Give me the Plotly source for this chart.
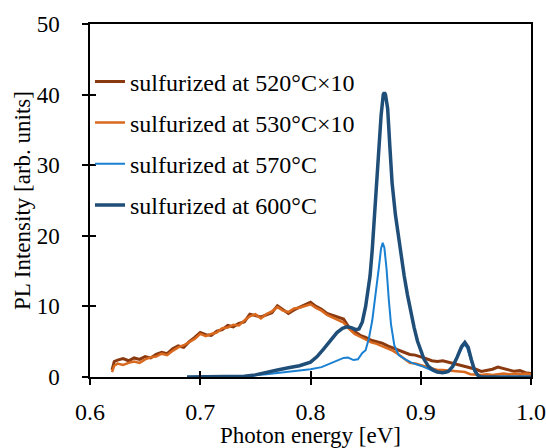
import plotly.graph_objects as go

# ---- data ----
e_520 = [0.620, 0.622, 0.625, 0.630, 0.635, 0.640, 0.645, 0.650, 0.655, 0.660, 0.665, 0.670, 0.675, 0.680,
         0.685, 0.690, 0.695, 0.700, 0.705, 0.710, 0.715, 0.720, 0.725, 0.730, 0.735, 0.740, 0.745, 0.750,
         0.755, 0.760, 0.765, 0.770, 0.775, 0.780, 0.785, 0.790, 0.795, 0.800, 0.805, 0.810, 0.815, 0.820,
         0.825, 0.830, 0.835, 0.840, 0.845, 0.850, 0.855, 0.860, 0.865, 0.870, 0.875, 0.880, 0.885, 0.890,
         0.895, 0.900, 0.905, 0.910, 0.915, 0.920, 0.925, 0.930, 0.935, 0.940, 0.945, 0.950, 0.955, 0.960,
         0.965, 0.970, 0.975, 0.980, 0.985, 0.990, 0.995, 1.000]
pl_520 = [1.0, 2.2, 2.4, 2.6, 2.3, 2.7, 2.5, 2.9, 2.7, 3.2, 3.5, 3.3, 4.0, 4.4,
          4.2, 5.0, 5.6, 6.3, 6.0, 5.9, 6.5, 6.7, 7.3, 7.1, 7.6, 7.8, 8.9, 8.7,
          8.5, 8.8, 9.1, 10.1, 9.6, 9.0, 9.5, 9.9, 10.3, 10.6, 10.0, 9.6, 9.0, 8.7,
          8.4, 8.2, 7.0, 6.4, 5.9, 5.6, 5.2, 5.0, 4.8, 4.4, 4.1, 3.8, 3.5, 3.2,
          3.1, 2.9, 2.6, 2.3, 2.2, 2.3, 2.1, 2.0, 1.8, 1.6, 1.3, 1.1, 0.8, 0.9,
          1.1, 1.4, 1.2, 0.9, 0.8, 0.9, 0.6, 0.5]

e_530 = e_520
pl_530 = [0.7, 1.6, 1.9, 1.7, 2.0, 2.2, 2.0, 2.5, 2.8, 2.9, 3.3, 3.1, 3.7, 4.2,
          4.5, 4.9, 5.4, 6.1, 5.8, 6.1, 6.3, 6.9, 7.0, 7.4, 7.3, 8.0, 8.6, 8.9,
          8.3, 8.9, 9.3, 9.9, 9.4, 9.2, 9.7, 9.8, 10.1, 10.3, 9.8, 9.4, 8.8, 8.4,
          8.1, 7.7, 6.8, 6.1, 5.7, 5.3, 4.9, 4.7, 4.4, 4.0, 3.7, 3.2, 2.6, 2.0,
          1.9, 1.7, 1.5, 1.2, 1.0, 1.0, 0.9, 0.9, 0.8, 0.7, 0.4, 0.3, 0.3, 0.4,
          0.3, 0.4, 0.5, 0.4, 0.5, 0.4, 0.5, 0.4]

e_570 = [0.688, 0.720, 0.740, 0.760, 0.780, 0.800, 0.810, 0.818, 0.825, 0.830, 0.834, 0.839, 0.843,
         0.847, 0.850, 0.853, 0.856, 0.859, 0.862, 0.864, 0.8655, 0.867, 0.869, 0.871, 0.873, 0.876,
         0.880, 0.886, 0.892, 0.900, 0.906, 0.912, 0.918, 0.923, 0.927, 0.931, 0.935, 0.939, 0.942,
         0.945, 0.948, 0.951, 0.955, 1.000]
pl_570 = [0.0, 0.0, 0.1, 0.4, 0.7, 1.1, 1.4, 1.9, 2.4, 2.7, 2.75, 2.4, 2.5,
          3.4, 3.8, 5.5, 8.0, 11.5, 15.5, 18.2, 19.0, 18.3, 15.3, 11.0, 7.5, 4.5,
          3.1, 2.5, 2.0, 1.6, 1.2, 0.8, 0.6, 0.6, 1.0, 2.2, 3.6, 4.6, 4.2,
          2.6, 1.1, 0.3, 0.0, 0.0]

e_600 = [0.688, 0.700, 0.720, 0.740, 0.750, 0.760, 0.770, 0.780, 0.790, 0.800, 0.806, 0.812, 0.818,
         0.824, 0.829, 0.833, 0.837, 0.841, 0.844, 0.847, 0.850, 0.852, 0.854, 0.856, 0.858, 0.860,
         0.862, 0.864, 0.866, 0.867, 0.868, 0.870, 0.872, 0.874, 0.877, 0.880, 0.883, 0.885, 0.888,
         0.891, 0.894, 0.897, 0.900, 0.903, 0.907, 0.911, 0.915, 0.920, 0.925, 0.929, 0.933, 0.937,
         0.940, 0.943, 0.946, 0.949, 0.952, 0.955, 0.970, 1.000]
pl_600 = [0.0, 0.0, 0.0, 0.1, 0.3, 0.7, 1.0, 1.3, 1.6, 2.1, 2.9, 4.0, 5.2,
          6.3, 6.9, 7.1, 7.0, 6.7, 6.8, 7.8, 10.0, 12.0, 14.3, 18.0, 23.0, 28.0,
          32.8, 37.0, 40.0, 40.3, 40.0, 38.0, 32.6, 27.5, 23.0, 19.5, 16.2, 14.3, 11.6,
          9.2, 7.0, 5.1, 3.6, 2.5, 1.5, 1.0, 0.7, 0.6, 0.8, 1.5, 2.8, 4.3,
          4.9, 4.2, 2.4, 0.9, 0.2, 0.0, 0.0, 0.0]

names = ["sulfurized at 520°C×10", "sulfurized at 530°C×10",
         "sulfurized at 570°C", "sulfurized at 600°C"]
colors = ["#8B3A10", "#D8691F", "#1A80D2", "#1F4E79"]
widths = [3, 2.5, 2, 3.5]

x_ticks = [0.6, 0.7, 0.8, 0.9, 1.0]
x_labels = ["0.6", "0.7", "0.8", "0.9", "1.0"]
y_ticks = [0, 10, 20, 30, 40, 50]

series = [(e_520, pl_520), (e_530, pl_530), (e_570, pl_570), (e_600, pl_600)]

fig = go.Figure()
for i, (xs, ys) in enumerate(series):
    fig.add_trace(go.Scatter(x=xs, y=ys, mode="lines", name=names[i],
                             legendgroup=f"g{i}",
                             line=dict(color=colors[i], width=widths[i])))

ff = "Liberation Serif"
fig.update_layout(
    width=546, height=448,
    margin=dict(l=90, r=15, t=24, b=71),
    paper_bgcolor="white", plot_bgcolor="white",
    font=dict(family=ff, color="black", size=22),
    showlegend=True,
    legend=dict(x=0.0, y=0.9, xanchor="left", yanchor="top",
                bgcolor="rgba(0,0,0,0)", font=dict(size=24, family=ff, color="black"),
                tracegroupgap=7, itemwidth=30),
    xaxis=dict(range=[0.6, 1.0], tickvals=x_ticks, ticktext=x_labels,
               showline=True, linecolor="black", linewidth=1.5, mirror=True,
               ticks="outside", ticklen=6, tickcolor="black", tickwidth=1.5,
               showgrid=False, zeroline=False, ticklabelstandoff=6, automargin=False,
               tickfont=dict(size=24, family=ff),
               title=dict(text="Photon energy [eV]", font=dict(size=23, family=ff))),
    yaxis=dict(range=[0, 50], tickvals=y_ticks,
               showline=True, linecolor="black", linewidth=1.5, mirror=True,
               ticks="outside", ticklen=6, tickcolor="black", tickwidth=1.5,
               showgrid=False, zeroline=False, ticklabelstandoff=18, automargin=True,
               tickfont=dict(size=23, family=ff),
               title=dict(text="PL Intensity [arb. units]", font=dict(size=23, family=ff), standoff=0)),
    xaxis2=dict(range=[0.6, 1.0], overlaying="x", anchor="y2", tickvals=x_ticks,
                showticklabels=False, ticks="inside", ticklen=6, tickcolor="black",
                tickwidth=1.5, showgrid=False, zeroline=False, showline=False),
    yaxis2=dict(range=[0, 50], overlaying="y", anchor="x2", tickvals=y_ticks,
                showticklabels=False, ticks="inside", ticklen=6, tickcolor="black",
                tickwidth=1.5, showgrid=False, zeroline=False, showline=False),
)
# invisible trace to activate overlay axes
fig.add_trace(go.Scatter(x=[0.6], y=[0], xaxis="x2", yaxis="y2", mode="markers",
                         marker=dict(opacity=0), showlegend=False, hoverinfo="skip"))

fig.write_html("out.html")
